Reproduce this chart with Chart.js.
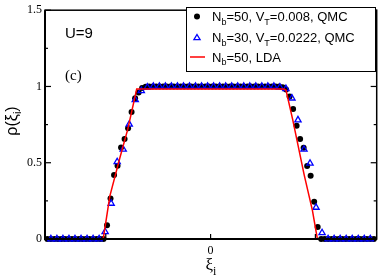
<!DOCTYPE html>
<html>
<head>
<meta charset="utf-8">
<script src="https://cdn.jsdelivr.net/npm/chart.js@4.4.0/dist/chart.umd.min.js"></script>
<style>
  body { margin: 0; background: #fff; }
  canvas { display: block; }
</style>
</head>
<body>
<canvas id="rhoChart" width="382" height="279"></canvas>
<script>
/* ── DATA ───────────────────────────────────────── */
// QMC, N_b=50, V_T=0.008 : sites -47..46, xi = (i + 0.5) * spacing
const dotFirstSite = -47;
const dotSpacing = 0.0335;
const dotRho = [
  0, 0, 0, 0, 0, 0, 0, 0, 0, 0, 0, 0, 0, 0, 0, 0, 0,
  0.09, 0.265, 0.42, 0.48, 0.60, 0.656, 0.726, 0.833, 0.923, 0.96, 0.99,
  0.998, 1, 1, 1, 1, 1, 1, 1, 1, 1, 1, 1, 1, 1, 1, 1, 1, 1, 1, 1,
  1, 1, 1, 1, 1, 1, 1, 1, 1, 1, 1, 1, 1, 1, 1, 1, 1, 1, 1, 0.995,
  0.98, 0.934, 0.853, 0.742, 0.656, 0.598, 0.479, 0.415, 0.244, 0.079,
  0, 0, 0, 0, 0, 0, 0, 0, 0, 0, 0, 0, 0, 0, 0, 0
];

// QMC, N_b=30, V_T=0.0222 : sites -27..26
const triFirstSite = -27;
const triSpacing = 0.0575;
const triRho = [
  0, 0, 0, 0, 0, 0, 0, 0, 0,
  0.047, 0.233, 0.506, 0.588, 0.752, 0.912, 0.972,
  0.995, 1, 1, 1, 1, 1, 1, 1, 1, 1, 1, 1, 1, 1, 1, 1, 1, 1, 1, 1, 1, 1, 0.995,
  0.985, 0.923, 0.78, 0.588, 0.496, 0.207, 0.04,
  0, 0, 0, 0, 0, 0, 0, 0
];

// LDA, N_b=50
const ldaXi  = [-1.58, -1.025, -0.993, -0.962, -0.868, -0.79, -0.705, 0.70, 0.72, 0.783, 0.893, 0.972, 1.019, 1.585];
const ldaRho = [0, 0, 0.14, 0.28, 0.526, 0.72, 0.983, 0.983, 0.975, 0.784, 0.421, 0.186, 0, 0];

const xTicks = [-1, 0, 1];
const xTickLabels = ['', '0', ''];
const yTicks = [0, 0.5, 1, 1.5];
const yMinorTicks = [0.25, 0.75, 1.25];

/* ── HELPERS ────────────────────────────────────── */
const sites = (first, n, sp) => Array.from({ length: n }, (_, k) => (first + k + 0.5) * sp);
const dotXi = sites(dotFirstSite, dotRho.length, dotSpacing);
const triXi = sites(triFirstSite, triRho.length, triSpacing);
const pts = (xs, ys) => xs.map((v, k) => ({ x: v, y: ys[k] }));

// text with subscripts: parts = [[text, isSub], ...]
function drawParts(ctx, parts, x, y, size, family, align) {
  const subSize = Math.round(size * 0.68);
  let w = 0;
  parts.forEach(([t, sub]) => {
    ctx.font = (sub ? subSize : size) + 'px ' + family;
    w += ctx.measureText(t).width;
  });
  let cx = align === 'center' ? x - w / 2 : x;
  parts.forEach(([t, sub]) => {
    ctx.font = (sub ? subSize : size) + 'px ' + family;
    ctx.fillText(t, cx, sub ? y + size * 0.28 : y);
    cx += ctx.measureText(t).width;
  });
}

function line(ctx, x1, y1, x2, y2) {
  ctx.beginPath();
  ctx.moveTo(x1, y1);
  ctx.lineTo(x2, y2);
  ctx.stroke();
}

/* ── DECORATION PLUGIN ──────────────────────────── */
const decor = {
  id: 'decor',
  afterDraw(chart) {
    const { ctx, chartArea: a, scales: { x, y } } = chart;
    ctx.save();
    ctx.strokeStyle = '#000';
    ctx.fillStyle = '#000';

    // frame
    ctx.lineWidth = 1.5;
    ctx.strokeRect(a.left, a.top, a.right - a.left, a.bottom - a.top);
    ctx.lineWidth = 2;
    line(ctx, a.left, a.top, a.left, a.bottom + 1);
    line(ctx, a.left - 1, a.bottom, a.right, a.bottom);

    // inward ticks
    ctx.lineWidth = 1.2;
    yTicks.forEach(v => {
      const py = y.getPixelForValue(v);
      line(ctx, a.left, py, a.left + 6, py);
      line(ctx, a.right - 6, py, a.right, py);
    });
    yMinorTicks.forEach(v => {
      const py = y.getPixelForValue(v);
      line(ctx, a.left, py, a.left + 3, py);
      line(ctx, a.right - 3, py, a.right, py);
    });
    xTicks.forEach(v => {
      const px = x.getPixelForValue(v);
      line(ctx, px, a.bottom, px, a.bottom - 5);
    });

    // legend box
    ctx.lineWidth = 1;
    ctx.fillStyle = '#fff';
    ctx.fillRect(186, 7, 189, 64);
    ctx.strokeRect(186.5, 7.5, 189, 64);
    ctx.fillStyle = '#000';
    ctx.beginPath();
    ctx.arc(197, 16.5, 3, 0, Math.PI * 2);
    ctx.fill();
    ctx.strokeStyle = '#0000ff';
    ctx.lineWidth = 1.3;
    ctx.beginPath();
    ctx.moveTo(197, 34.5);
    ctx.lineTo(200.1, 39.7);
    ctx.lineTo(193.9, 39.7);
    ctx.closePath();
    ctx.stroke();
    ctx.strokeStyle = '#ff0000';
    ctx.lineWidth = 1.5;
    line(ctx, 190, 57, 205, 57);

    ctx.fillStyle = '#000';
    ctx.textBaseline = 'alphabetic';
    ctx.textAlign = 'left';
    const sans = '"Liberation Sans", Arial, sans-serif';
    const serif = '"Liberation Serif", "Times New Roman", serif';
    drawParts(ctx, [['N'], ['b', 1], ['=50, V'], ['T', 1], ['=0.008, QMC']], 212, 21, 13, sans);
    drawParts(ctx, [['N'], ['b', 1], ['=30, V'], ['T', 1], ['=0.0222, QMC']], 212, 42, 13, sans);
    drawParts(ctx, [['N'], ['b', 1], ['=50, LDA']], 212, 61.5, 13, sans);

    // annotations
    drawParts(ctx, [['U=9']], 65, 37.5, 15, sans);
    drawParts(ctx, [['(c)']], 65, 80, 15, serif);

    // axis titles
    drawParts(ctx, [['\u03be'], ['i', 1]], 211, 270, 17, serif, 'center');
    ctx.translate(17, 121);
    ctx.rotate(-Math.PI / 2);
    drawParts(ctx, [['\u03c1(\u03be'], ['i', 1], [')']], 0, 0, 16, sans, 'center');
    ctx.restore();
  }
};

/* ── CHART ──────────────────────────────────────── */
new Chart(document.getElementById('rhoChart'), {
  type: 'scatter',
  data: {
    datasets: [
      {
        label: 'N_b=50, LDA',
        data: pts(ldaXi, ldaRho),
        showLine: true,
        borderColor: '#ff0000',
        borderWidth: 1.5,
        pointRadius: 0,
        tension: 0,
        clip: false,
        order: 0
      },
      {
        label: 'N_b=30, V_T=0.0222, QMC',
        data: pts(triXi, triRho),
        pointStyle: 'triangle',
        pointRadius: 3.6,
        borderColor: '#0000ff',
        backgroundColor: 'rgba(0,0,0,0)',
        borderWidth: 1.3,
        clip: false,
        order: 1
      },
      {
        label: 'N_b=50, V_T=0.008, QMC',
        data: pts(dotXi, dotRho),
        pointStyle: 'circle',
        pointRadius: 3,
        borderWidth: 0,
        backgroundColor: '#000',
        clip: false,
        order: 2
      }
    ]
  },
  options: {
    responsive: false,
    devicePixelRatio: 1,
    animation: false,
    layout: { padding: { left: 0, right: 2, top: 5, bottom: 0 } },
    plugins: { legend: { display: false }, tooltip: { enabled: false } },
    scales: {
      x: {
        type: 'linear',
        min: -1.58,
        max: 1.585,
        afterBuildTicks: s => { s.ticks = xTicks.map(v => ({ value: v })); },
        afterFit: s => { s.height = 40; },
        grid: { display: false, drawTicks: false },
        border: { display: false },
        ticks: {
          callback: (v) => xTickLabels[xTicks.indexOf(v)] || '',
          font: { family: '"Liberation Serif", serif', size: 12 },
          color: '#000',
          padding: 5,
          maxRotation: 0,
          autoSkip: false
        }
      },
      y: {
        min: 0,
        max: 1.5,
        afterBuildTicks: s => { s.ticks = yTicks.map(v => ({ value: v })); },
        afterFit: s => { s.width = 45; },
        grid: { display: false, drawTicks: false },
        border: { display: false },
        ticks: {
          callback: v => String(v),
          font: { family: '"Liberation Serif", serif', size: 12 },
          color: '#000',
          padding: 3
        }
      }
    }
  },
  plugins: [decor]
});
</script>
</body>
</html>
